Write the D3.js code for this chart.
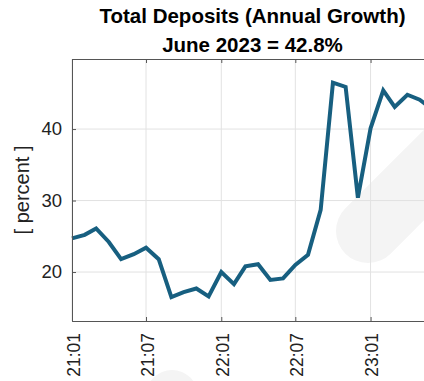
<!DOCTYPE html>
<html><head><meta charset="utf-8">
<script src="https://cdn.jsdelivr.net/npm/d3@7"></script>
<style>body{margin:0;background:#fff;}svg{display:block;font-family:"Liberation Sans",Arial,sans-serif;}</style>
</head><body>
<div id="chart"></div>
<script>
const months = ["2021-01","2021-02","2021-03","2021-04","2021-05","2021-06","2021-07","2021-08","2021-09","2021-10","2021-11","2021-12",
  "2022-01","2022-02","2022-03","2022-04","2022-05","2022-06","2022-07","2022-08","2022-09","2022-10","2022-11","2022-12",
  "2023-01","2023-02","2023-03","2023-04","2023-05","2023-06"];
const growth = [24.7,25.2,26.1,24.2,21.8,22.5,23.4,21.8,16.5,17.2,17.7,16.6,
  20.0,18.3,20.8,21.1,18.9,19.1,21.0,22.4,28.7,46.5,45.9,30.4,
  40.1,45.4,43.1,44.8,44.1,42.8];
const xTicks = ["2021-01","2021-07","2022-01","2022-07","2023-01"];
const xTickLabels = ["21:01","21:07","22:01","22:07","23:01"];
const yTicks = [20,30,40];
const titleLines = ["Total Deposits (Annual Growth)","June 2023 = 42.8%"];
const yLabel = "[ percent ]";

const W = 424, H = 381;
const m = {left:72, top:59, bottom:321};
const parse = d3.timeParse("%Y-%m");
const svg = d3.select("#chart").append("svg").attr("width",W).attr("height",H);

const x = d3.scaleTime().domain([parse("2021-01"), parse("2023-07")]).range([m.left, m.left + 12.42*30]);
const y = d3.scaleLinear().domain([13.15, 49.8]).range([m.bottom, m.top]);
const xr = x.range()[1];

// watermark
svg.append("line").attr("x1",368).attr("y1",231).attr("x2",520).attr("y2",79)
  .attr("stroke","#f4f4f4").attr("stroke-width",64).attr("stroke-linecap","round");
svg.append("circle").attr("cx",172).attr("cy",396).attr("r",26).attr("fill","#f4f4f4");

// grid
const g = svg.append("g");
g.selectAll(".gy").data(yTicks).join("line")
  .attr("x1",m.left).attr("x2",xr).attr("y1",d=>y(d)).attr("y2",d=>y(d))
  .attr("stroke","#e2e2e2").attr("stroke-width",1);
g.selectAll(".gx").data(xTicks).join("line")
  .attr("x1",d=>x(parse(d))).attr("x2",d=>x(parse(d))).attr("y1",m.top).attr("y2",m.bottom)
  .attr("stroke","#e2e2e2").attr("stroke-width",1);

// line
const line = d3.line().x((d,i)=>x(parse(months[i]))).y(d=>y(d));
svg.append("path").datum(growth).attr("d",line).attr("fill","none")
  .attr("stroke","#175f80").attr("stroke-width",4).attr("stroke-linejoin","miter");

// axes
const axc = "#555";
const ff = "Liberation Sans, Arial, sans-serif";
const xb = svg.append("g").attr("transform",`translate(0,${m.bottom})`)
  .call(d3.axisBottom(x).tickValues(xTicks.map(parse)).tickSize(-4).tickPadding(8)
    .tickFormat((d,i)=>xTickLabels[i]));
xb.select(".domain").attr("stroke",axc);
xb.selectAll(".tick line").attr("stroke",axc);
xb.selectAll("text").attr("transform","rotate(-90)").attr("text-anchor","end")
  .attr("x",-12).attr("y",1).attr("dy","0.35em")
  .attr("font-size",17.5).attr("fill","#222").attr("font-family",ff);
const xt = svg.append("g").attr("transform",`translate(0,${m.top})`)
  .call(d3.axisTop(x).tickValues(xTicks.map(parse)).tickSize(-4).tickFormat(""));
xt.select(".domain").attr("stroke",axc);
xt.selectAll(".tick line").attr("stroke",axc);

const yl = svg.append("g").attr("transform",`translate(${m.left},0)`)
  .call(d3.axisLeft(y).tickValues(yTicks).tickSize(-4).tickPadding(10));
yl.select(".domain").attr("stroke",axc);
yl.selectAll(".tick line").attr("stroke",axc);
yl.selectAll("text").attr("font-size",18.5).attr("fill","#222").attr("font-family",ff);

svg.append("text").attr("transform",`translate(29,${(m.top+m.bottom)/2}) rotate(-90)`)
  .attr("text-anchor","middle").attr("font-size",20).attr("fill","#222").text(yLabel);

svg.selectAll(".title").data(titleLines).join("text")
  .attr("x",252.5).attr("y",(d,i)=>22.5+i*29.5).attr("text-anchor","middle")
  .attr("font-size",20.5).attr("font-weight","bold").attr("fill","#000").text(d=>d);
</script>
</body></html>
